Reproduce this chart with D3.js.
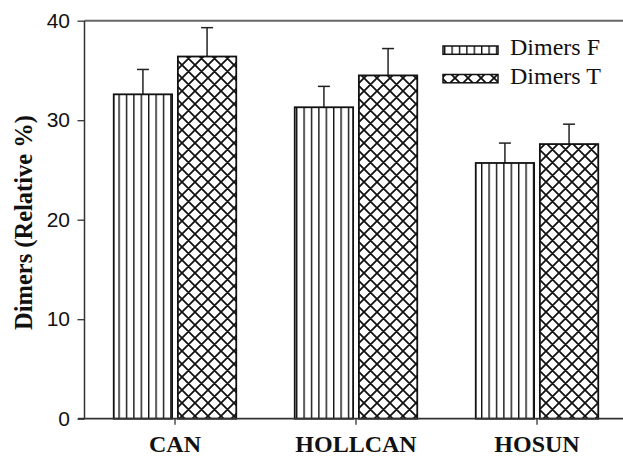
<!DOCTYPE html>
<html><head><meta charset="utf-8">
<script src="https://cdn.jsdelivr.net/npm/d3@7"></script>
<style>body{margin:0;background:#fff}svg{display:block}</style>
</head><body>
<script>
const categories = ["CAN", "HOLLCAN", "HOSUN"];
const seriesNames = ["Dimers F", "Dimers T"];
const valuesF = [32.6, 31.3, 25.7];
const valuesT = [36.4, 34.5, 27.6];
const errorsF = [2.5, 2.1, 2.0];
const errorsT = [2.9, 2.7, 2.0];
const yTicks = [0, 10, 20, 30, 40];

const W = 623, H = 457;
const svg = d3.select("body").append("svg").attr("width", W).attr("height", H);
const defs = svg.append("defs");

// vertical hatch
const pv = defs.append("pattern").attr("id", "vhatch").attr("patternUnits", "userSpaceOnUse")
  .attr("width", 7.4).attr("height", 10);
pv.append("rect").attr("width", 7.4).attr("height", 10).attr("fill", "#fff");
pv.append("line").attr("x1", 0.7).attr("x2", 0.7).attr("y1", 0).attr("y2", 10)
  .attr("stroke", "#111").attr("stroke-width", 1.4);

// cross hatch
const s = 13;
const pc = defs.append("pattern").attr("id", "xhatch").attr("patternUnits", "userSpaceOnUse")
  .attr("width", s).attr("height", s);
pc.append("rect").attr("width", s).attr("height", s).attr("fill", "#fff");
pc.append("path").attr("d", `M0,0L${s},${s}M0,${s}L${s},0M${-s/2},${s/2}L${s/2},${-s/2}M${s/2},${s*1.5}L${s*1.5},${s/2}M${-s/2},${s/2}L${s/2},${s*1.5}M${s/2},${-s/2}L${s*1.5},${s/2}`)
  .attr("stroke", "#111").attr("stroke-width", 1.8);

const fills = ["url(#vhatch)", "url(#xhatch)"];

const x0 = d3.scaleBand().domain(categories).range([84.5, 627.5]).padding(0);
const x1 = d3.scaleBand().domain(seriesNames).range([-61.25, 61.25]).paddingInner(0.09).paddingOuter(0);
const y = d3.scaleLinear().domain([0, 40]).range([418.7, 20.7]);

const data = [];
categories.forEach((c, i) => {
  data.push({cat: c, ser: seriesNames[0], v: valuesF[i], e: errorsF[i], k: 0});
  data.push({cat: c, ser: seriesNames[1], v: valuesT[i], e: errorsT[i], k: 1});
});

const axisColor = "#333";
const serif = "Liberation Serif, Times New Roman, serif";

// top frame line
svg.append("line").attr("x1", 84.5).attr("x2", W).attr("y1", y(40)).attr("y2", y(40))
  .attr("stroke", "#666").attr("stroke-width", 2);

// error bars
const eg = svg.append("g").attr("stroke", "#222").attr("stroke-width", 1.5);
data.forEach(d => {
  const cx = x0(d.cat) + x0.bandwidth() / 2 + x1(d.ser) + x1.bandwidth() / 2;
  eg.append("line").attr("x1", cx).attr("x2", cx).attr("y1", y(d.v)).attr("y2", y(d.v + d.e));
  eg.append("line").attr("x1", cx - 6).attr("x2", cx + 6).attr("y1", y(d.v + d.e)).attr("y2", y(d.v + d.e));
});

// bars
svg.append("g").selectAll("rect").data(data).join("rect")
  .attr("x", d => x0(d.cat) + x0.bandwidth() / 2 + x1(d.ser))
  .attr("y", d => y(d.v))
  .attr("width", x1.bandwidth())
  .attr("height", d => y(0) - y(d.v))
  .attr("fill", d => fills[d.k])
  .attr("stroke", "#111").attr("stroke-width", 1.8);

// y axis
const yAxis = svg.append("g").attr("transform", "translate(84.5,0)")
  .call(d3.axisLeft(y).tickValues(yTicks).tickSize(7).tickPadding(7.5).tickFormat(d3.format("d")));
yAxis.select(".domain").attr("stroke", axisColor).attr("stroke-width", 1.5).attr("d", `M0,${y(40)}V${y(0)}`);
yAxis.selectAll(".tick line").attr("stroke", axisColor).attr("stroke-width", 1.3);
yAxis.selectAll("text").attr("font-family", "Liberation Sans, Arial, sans-serif").attr("font-size", 21).attr("fill", "#111");

// x axis
const xAxis = svg.append("g").attr("transform", `translate(0,${y(0)})`)
  .call(d3.axisBottom(x0).tickSize(6));
xAxis.select(".domain").attr("stroke", axisColor).attr("stroke-width", 1.8).attr("d", `M78,0H${W}`);
xAxis.selectAll(".tick line").attr("stroke", axisColor).attr("stroke-width", 1.3);
xAxis.selectAll("text").attr("y", 33.3).attr("dy", 0).attr("font-family", serif)
  .attr("font-weight", "bold").attr("font-size", 24).attr("fill", "#111");

// y label
svg.append("text").attr("transform", `translate(31.5,${222.5}) rotate(-90)`)
  .attr("text-anchor", "middle")
  .attr("font-family", serif)
  .attr("font-weight", "bold").attr("font-size", 26).attr("fill", "#111")
  .attr("textLength", 215).attr("lengthAdjust", "spacingAndGlyphs")
  .text("Dimers (Relative %)");

// legend
const lg = svg.append("g");
seriesNames.forEach((n, i) => {
  const ly = 46 + i * 28.5;
  lg.append("rect").attr("x", 443).attr("y", ly).attr("width", 55).attr("height", 8.3)
    .attr("fill", fills[i]).attr("stroke", "#111").attr("stroke-width", 1.5);
  lg.append("text").attr("x", 510).attr("y", ly + 9)
    .attr("font-family", serif)
    .attr("font-size", 24).attr("fill", "#111").text(n);
});
</script>
</body></html>
